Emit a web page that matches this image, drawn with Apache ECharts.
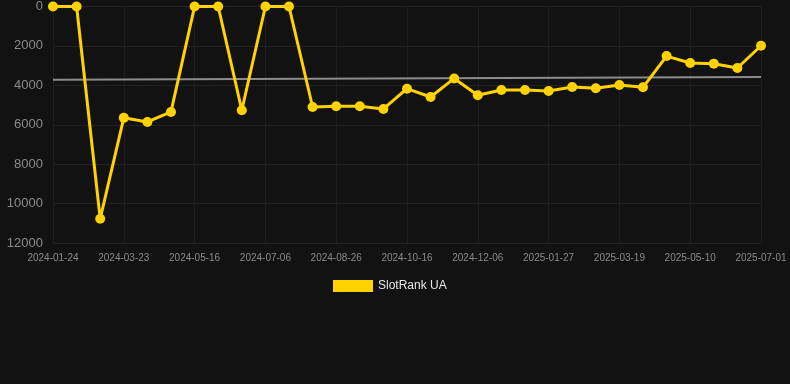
<!DOCTYPE html>
<html>
<head>
<meta charset="utf-8">
<script src="https://cdn.jsdelivr.net/npm/echarts@6/dist/echarts.min.js"></script>
<style>
  html, body { margin: 0; padding: 0; background: #121212; }
  #chart { width: 790px; height: 384px; }
</style>
</head>
<body>
<div id="chart"></div>
<script>
// dates on the x axis (one point about every 17 days)
var dates = [
  '2024-01-24', '2024-02-13', '2024-03-03', '2024-03-23', '2024-04-10', '2024-04-28',
  '2024-05-16', '2024-06-02', '2024-06-19', '2024-07-06', '2024-07-23', '2024-08-09',
  '2024-08-26', '2024-09-12', '2024-09-29', '2024-10-16', '2024-11-02', '2024-11-19',
  '2024-12-06', '2024-12-23', '2025-01-10', '2025-01-27', '2025-02-13', '2025-03-02',
  '2025-03-19', '2025-04-05', '2025-04-23', '2025-05-10', '2025-05-27', '2025-06-14',
  '2025-07-01'
];
// rank values (lower = better, axis is inverted)
var rankUA = [
  0, 0, 10770, 5650, 5860, 5350,
  0, 0, 5265, 0, 0, 5100,
  5060, 5060, 5200, 4170, 4590, 3650,
  4500, 4240, 4240, 4290, 4085, 4150,
  3980, 4100, 2515, 2870, 2900, 3120,
  1990
];
// trend line end points
var trendStart = 3715;
var trendEnd = 3580;

var yellow = '#ffd200';
var chart = echarts.init(document.getElementById('chart'));
chart.setOption({
  backgroundColor: '#121212',
  animation: false,
  grid: { left: 53, right: 29, top: 6, bottom: 141 },
  legend: {
    bottom: 87,
    left: 328,
    itemWidth: 40,
    itemHeight: 12,
    itemGap: 10,
    icon: 'rect',
    textStyle: { color: '#e6e6e6', fontSize: 12, fontFamily: 'Liberation Sans, Arial, sans-serif' },
    data: ['SlotRank UA']
  },
  xAxis: {
    type: 'category',
    data: dates,
    boundaryGap: false,
    axisLine: { show: false },
    axisTick: { show: false },
    axisLabel: {
      interval: 2,
      color: '#8a8a8a',
      fontSize: 10,
      margin: 10,
      fontFamily: 'Liberation Sans, Arial, sans-serif'
    },
    splitLine: { show: true, interval: 2, lineStyle: { color: '#1e1e1e', width: 1 } }
  },
  yAxis: {
    type: 'value',
    inverse: true,
    min: 0,
    max: 12000,
    interval: 2000,
    axisLine: { show: false },
    axisTick: { show: false },
    axisLabel: {
      color: '#8a8a8a',
      fontSize: 13,
      margin: 10,
      fontFamily: 'Liberation Sans, Arial, sans-serif',
      formatter: function (v) { return String(v); }
    },
    splitLine: { lineStyle: { color: '#222222', width: 1 } }
  },
  series: [
    {
      name: 'SlotRank UA',
      type: 'line',
      data: rankUA,
      color: yellow,
      symbol: 'circle',
      symbolSize: 10,
      lineStyle: { color: yellow, width: 3 },
      itemStyle: { color: yellow },
      z: 3,
      markLine: {
        silent: true,
        symbol: ['none', 'none'],
        label: { show: false },
        lineStyle: { color: '#8c8c8c', width: 2, type: 'solid' },
        data: [[
          { coord: [dates[0], trendStart] },
          { coord: [dates[dates.length - 1], trendEnd] }
        ]],
        z: 2
      }
    }
  ]
});
</script>
</body>
</html>
